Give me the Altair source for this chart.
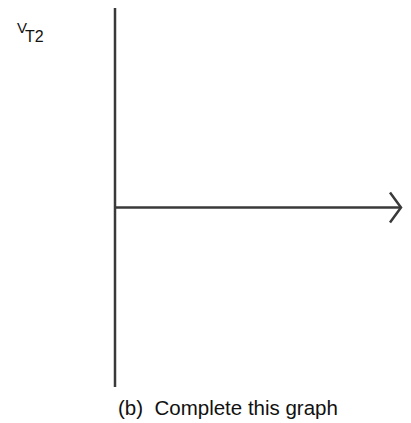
import altair as alt
import pandas as pd

# Diagram geometry in abstract data units (axes meet at 0, 0)
seg_id = ["vertical", "vertical", "horizontal", "horizontal", "arrow", "arrow", "arrow"]
seg_x = [0.0, 0.0, 0.0, 28.6, 27.5, 28.6, 27.5]
seg_y = [19.95, -17.95, 0.0, 0.0, 1.5, 0.0, -1.5]
seg_order = [0, 1, 0, 1, 0, 1, 2]

label_text = ["V", "T2"]
label_x = [-9.8, -9.0]
label_y = [17.5, 16.6]
label_size = [15, 16]

caption_text = ["(b)\u00a0 Complete this graph"]
caption_x = [0.3]
caption_y = [-20.75]

segs = pd.DataFrame({"id": seg_id, "x": seg_x, "y": seg_y, "o": seg_order})
labels = pd.DataFrame({"t": label_text, "x": label_x, "y": label_y, "s": label_size})
caption = pd.DataFrame({"t": caption_text, "x": caption_x, "y": caption_y})

xs = alt.Scale(domain=[-10.7, 28.8], nice=False, zero=False)
ys = alt.Scale(domain=[-21.55, 19.95], nice=False, zero=False)

lines = alt.Chart(segs).mark_line(color="#3a3a3a", strokeWidth=2.5, clip=False).encode(
    x=alt.X("x:Q", scale=xs, axis=None),
    y=alt.Y("y:Q", scale=ys, axis=None),
    detail="id:N",
    order="o:Q",
)

lab = alt.Chart(labels).mark_text(align="left", baseline="alphabetic", font="Liberation Sans", color="#111111").encode(
    x=alt.X("x:Q", scale=xs, axis=None),
    y=alt.Y("y:Q", scale=ys, axis=None),
    text="t:N",
    size=alt.Size("s:Q", scale=None, legend=None),
)

cap = alt.Chart(caption).mark_text(align="left", baseline="alphabetic", font="Liberation Sans", fontSize=20.5, color="#111111").encode(
    x=alt.X("x:Q", scale=xs, axis=None),
    y=alt.Y("y:Q", scale=ys, axis=None),
    text="t:N",
)

chart = alt.layer(lines, lab, cap).properties(
    width=395, height=415, padding=0, autosize=alt.AutoSizeParams(type="none")
).configure_view(stroke=None)

chart.save("out.html", embed_options={"renderer": "svg", "actions": False})
